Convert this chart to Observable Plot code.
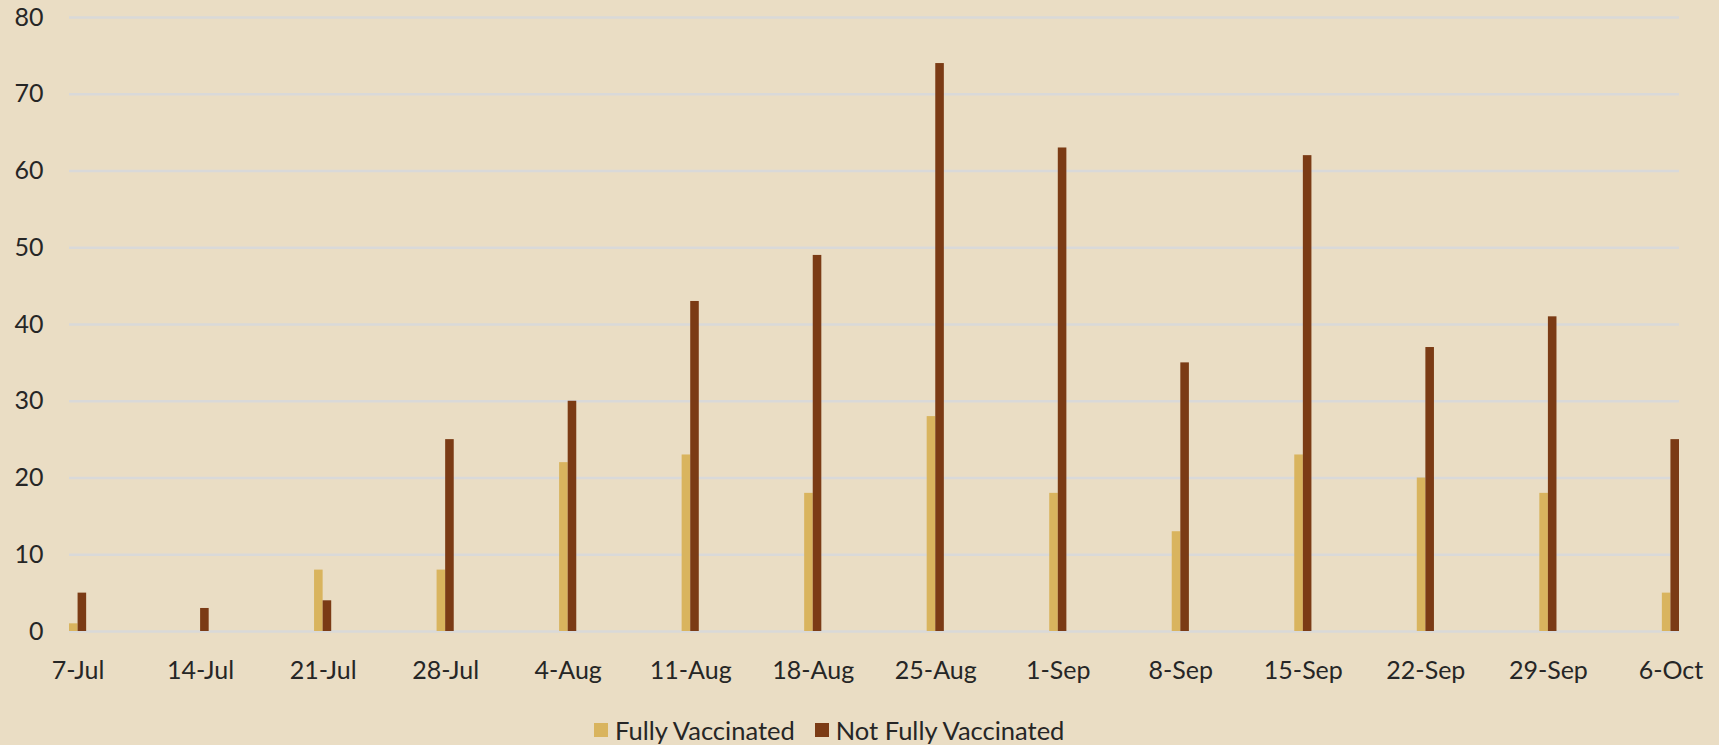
<!DOCTYPE html>
<html>
<head>
<meta charset="utf-8">
<script src="https://cdn.jsdelivr.net/npm/d3@7"></script>
<script src="https://cdn.jsdelivr.net/npm/@observablehq/plot@0.6"></script>
<style>
  html, body { margin: 0; padding: 0; background: #EADDC4; }
  #wrap { position: relative; width: 1719px; height: 745px; background: #EADDC4; }
  #chart svg { display: block; }
  #legend { position: absolute; left: 594px; top: 717px; height: 26px; display: flex; align-items: center;
    font-family: Lato, "Open Sans", sans-serif; font-size: 25.5px; line-height: 26px; color: #262626; white-space: nowrap; }
  #legend .sw { width: 14px; height: 14px; display: inline-block; margin-right: 7px; }
  #legend .item { display: flex; align-items: center; margin-right: 20px; }
</style>
</head>
<body>
<div id="wrap">
  <div id="chart"></div>
  <div id="legend"></div>
</div>
<script>
const dates = ["7-Jul","14-Jul","21-Jul","28-Jul","4-Aug","11-Aug","18-Aug","25-Aug","1-Sep","8-Sep","15-Sep","22-Sep","29-Sep","6-Oct"];
const fullyVaccinated =    [1, 0, 8, 8, 22, 23, 18, 28, 18, 13, 23, 20, 18, 5];
const notFullyVaccinated = [5, 3, 4, 25, 30, 43, 49, 74, 63, 35, 62, 37, 41, 25];
const yTicks = [0, 10, 20, 30, 40, 50, 60, 70, 80];
const seriesNames = ["Fully Vaccinated", "Not Fully Vaccinated"];
const seriesColors = ["#D9B45E", "#7B3B15"];

const table = dates.map((d, i) => ({date: d, fully: fullyVaccinated[i], notFully: notFullyVaccinated[i]}));

const chart = Plot.plot({
  width: 1719,
  height: 700,
  marginLeft: 69,
  marginRight: 40,
  marginTop: 17,
  marginBottom: 69,
  style: {background: "#EADDC4", fontFamily: "Lato, 'Open Sans', sans-serif", fontSize: "25px", color: "#262626", overflow: "visible"},
  x: {type: "band", domain: dates, paddingInner: 0.86, paddingOuter: 0, round: false, label: null, tickSize: 0, tickPadding: 30},
  y: {domain: [0, 80], ticks: yTicks, label: null, tickSize: 0, tickPadding: 26},
  marks: [
    Plot.ruleY(yTicks, {stroke: "#D9D9D9", strokeWidth: 2.5}),
    Plot.barY(table, {x: "date", y: "fully", fill: seriesColors[0], insetRight: 8.58}),
    Plot.barY(table, {x: "date", y: "notFully", fill: seriesColors[1], insetLeft: 8.58})
  ]
});
document.getElementById("chart").appendChild(chart);

const legend = document.getElementById("legend");
seriesNames.forEach((name, i) => {
  const item = document.createElement("span");
  item.className = "item";
  const sw = document.createElement("span");
  sw.className = "sw";
  sw.style.background = seriesColors[i];
  const t = document.createElement("span");
  t.textContent = name;
  item.appendChild(sw);
  item.appendChild(t);
  legend.appendChild(item);
});
</script>
</body>
</html>
